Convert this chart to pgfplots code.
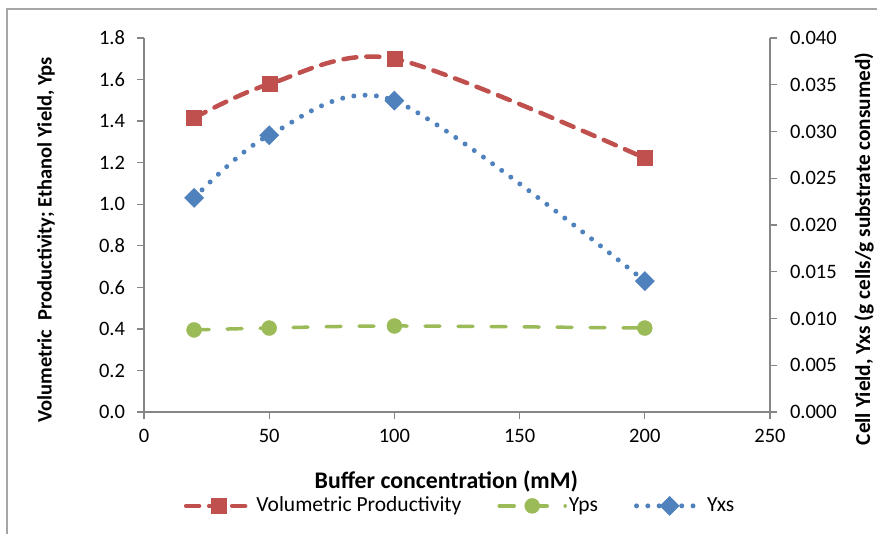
\documentclass[border=0pt]{standalone}
\usepackage{fontspec}
\setmainfont{Carlito}
\usepackage{pgfplots}
\pgfplotsset{compat=1.18}
\definecolor{vp}{HTML}{C0504D}
\definecolor{yps}{HTML}{9BBB59}
\definecolor{yxs}{HTML}{4F81BD}
\definecolor{axgray}{HTML}{868686}
\definecolor{framegray}{HTML}{A6A6A6}
\pgfplotsset{
  /pgf/number format/assume math mode=true,
  common/.style={
    scale only axis, width=626pt, height=374pt,
    xmin=0, xmax=250,
    axis line style={draw=axgray, line width=1.3pt, -},
    tick align=outside, major tick length=7pt,
    tick style={draw=axgray, line width=1.3pt},
    tick label style={font=\fontsize{20.5}{24}\selectfont, text=black},
    label style={font=\bfseries\fontsize{20.5}{24}\selectfont},
  },
  vpstyle/.style={color=vp, line width=4.5pt, dash pattern=on 13pt off 10pt, line cap=round, smooth,
     mark=square*, mark size=7.5pt, mark options={solid, line width=0.4pt, fill=vp, draw=vp}},
  ypsstyle/.style={color=yps, line width=3.5pt, dash pattern=on 15pt off 18pt, line cap=round, smooth,
     mark=*, mark size=7.5pt, mark options={solid, line width=0.4pt, fill=yps, draw=yps}},
  yxsstyle/.style={color=yxs, line width=5pt, dash pattern=on 0pt off 11.3pt, line cap=round, smooth,
     mark=square*, mark size=6.8pt, mark options={solid, rotate=45, line width=0.4pt, fill=yxs, draw=yxs}},
}
\begin{document}
\fontsize{20.5}{24}\selectfont
\begin{tikzpicture}
\useasboundingbox (-144pt,-122pt) rectangle (733pt,412pt);
\draw[framegray, line width=1.5pt] (-137pt,-200pt) -- (-137pt,403pt) -- (800pt,403pt);
\begin{axis}[common,
  ymin=0, ymax=1.8,
  axis x line*=bottom, axis y line*=left,
  xtick={0,50,100,150,200,250},
  ytick={0,0.2,0.4,0.6,0.8,1.0,1.2,1.4,1.6,1.8},
  yticklabel style={xshift=-5pt, /pgf/number format/.cd, fixed, fixed zerofill, precision=1},
  xticklabel style={yshift=-3pt},
  xlabel={Buffer concentration (mM)},
  ylabel={Volumetric\ \ Productivity; Ethanol Yield, Yps},
  xlabel style={at={(axis description cs:0.483,-0.187)}, anchor=center, font=\bfseries\fontsize{23.8}{28}\selectfont},
  ylabel style={at={(axis description cs:-0.1565,0.46)}, anchor=center},
  legend style={at={(axis description cs:0.505,-0.251)}, anchor=center, draw=none, fill=none,
     font=\fontsize{21.5}{25}\selectfont,
     /tikz/every even column/.append style={column sep=34pt}},
  legend columns=3, legend cell align=left,
  legend image code/.code={\draw[mark repeat=2,mark phase=2,#1] plot coordinates {(0pt,0pt)(33pt,0pt)(66pt,0pt)};},
]
\addplot[vpstyle] coordinates {(20,1.415) (50,1.578) (100,1.700) (200,1.222)};
\addlegendentry{Volumetric Productivity}
\addplot[ypsstyle] coordinates {(20,0.395) (50,0.404) (100,0.414) (200,0.404)};
\addlegendentry{Yps}
\addlegendimage{yxsstyle}
\addlegendentry{Yxs}
\end{axis}
\begin{axis}[common,
  ymin=0, ymax=0.04,
  axis x line=none, axis y line*=right,
  ytick={0,0.005,0.010,0.015,0.020,0.025,0.030,0.035,0.040},
  scaled y ticks=false,
  yticklabel style={xshift=6pt, /pgf/number format/.cd, fixed, fixed zerofill, precision=3},
  ylabel={Cell Yield, Yxs (g cells/g substrate consumed)},
  ylabel style={at={(axis description cs:1.150,0.436)}, anchor=center, rotate=0, font=\bfseries\fontsize{21.3}{25}\selectfont},
]
\addplot[yxsstyle] coordinates {(20,0.0229) (50,0.0296) (100,0.0333) (200,0.0140)};
\end{axis}
\end{tikzpicture}
\end{document}
